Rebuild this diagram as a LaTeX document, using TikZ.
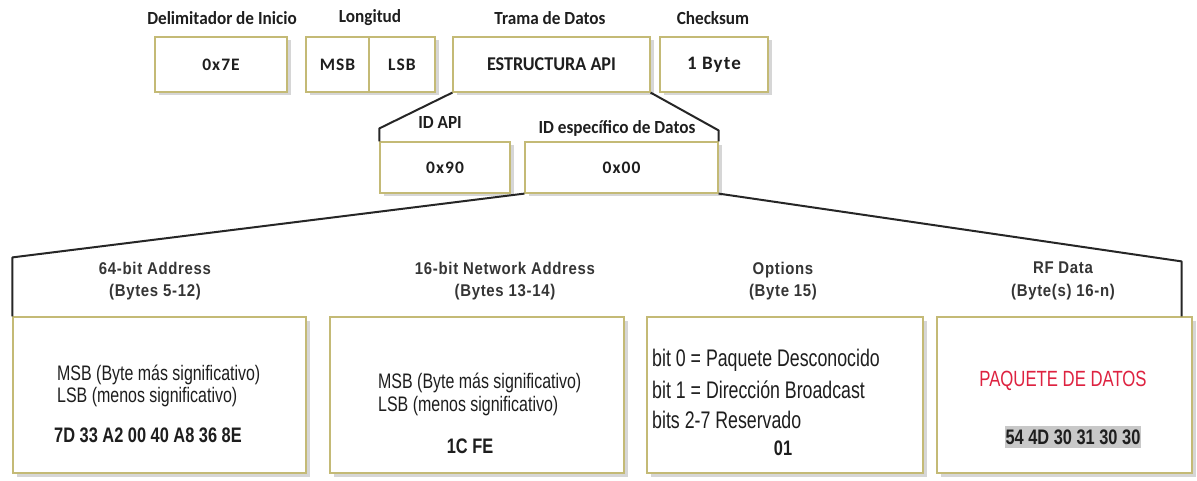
\documentclass[tikz,border=0pt]{standalone}
\usepackage{fontspec}
\setmainfont{Liberation Sans}
\newfontfamily\calfont[FakeStretch=0.93]{Carlito}
\newfontfamily\valfont[LetterSpace=6]{Carlito}
\newfontfamily\narrowfont[FakeStretch=0.76]{Liberation Sans}
\newfontfamily\optfont[FakeStretch=0.74]{Liberation Sans}
\newfontfamily\numfont[FakeStretch=0.78]{Liberation Sans}
\newfontfamily\headfont[FakeStretch=0.88,LetterSpace=4]{Liberation Sans}
\usetikzlibrary{shadows,calc}

\definecolor{frame}{RGB}{196,186,118}
\definecolor{shade}{RGB}{180,180,180}
\definecolor{redtxt}{RGB}{222,34,64}
\definecolor{hilite}{RGB}{200,200,200}
\definecolor{ink}{RGB}{30,30,30}

\tikzset{
  box/.style={draw=frame, line width=1.2pt, fill=white, inner sep=0pt,
    drop shadow={shadow xshift=3.5pt, shadow yshift=-3.5pt, fill=shade, opacity=0.55}},
  toplabel/.style={font=\calfont\bfseries\fontsize{18.5}{20}\selectfont, text=ink},
  topval/.style={font=\valfont\bfseries\fontsize{17.5}{19}\selectfont, text=ink},
  head/.style={font=\headfont\bfseries\fontsize{17}{22.5}\selectfont, text=ink!90, align=center},
  body/.style={font=\narrowfont\fontsize{21}{22}\selectfont, text=ink, anchor=west, inner sep=0pt},
  opt/.style={font=\optfont\fontsize{24}{26}\selectfont, text=ink, anchor=west, inner sep=0pt},
  num/.style={font=\numfont\bfseries\fontsize{21}{22}\selectfont, text=ink, inner sep=0pt},
  conn/.style={draw=black!85, line width=2pt, line join=round},
}

\begin{document}
\begin{tikzpicture}[x=1pt,y=-1pt]
\useasboundingbox (0,0) rectangle (1197,481);

% --- frame: start delimiter, length, data frame, checksum
\node[toplabel] (ldelim) at (222,18) {Delimitador de Inicio};
\node[toplabel] (llen)   at (370,18) {Longitud};
\node[toplabel] (ltrama) at (550,18) {Trama de Datos};
\node[toplabel] (lcheck) at (713,18) {Checksum};

\node[box, minimum width=132pt, minimum height=55pt, topval] (delim) at (221,64.5) {0x7E};
\node[box, minimum width=63pt, minimum height=55pt, topval] (msb) at (337.5,64.5) {MSB};
\node[box, minimum width=66pt, minimum height=55pt, topval] (lsb) at (402,64.5) {LSB};
\node[box, minimum width=197pt, minimum height=55pt, font=\calfont\bfseries\fontsize{19.5}{20}\selectfont, text=ink] (trama) at (551.5,64.5) {ESTRUCTURA API};
\node[box, minimum width=108pt, minimum height=55pt, font=\valfont\bfseries\fontsize{19}{20}\selectfont, text=ink] (check) at (714,64.5) {1 Byte};

% --- API structure
\node[toplabel] (lidapi) at (440,123) {ID API};
\node[toplabel] (lidesp) at (617,128) {ID específico de Datos};
\node[box, minimum width=130pt, minimum height=51pt, topval] (idapi) at (445,167.5) {0x90};
\node[box, minimum width=193pt, minimum height=51pt, topval] (idesp) at (621.5,167.5) {0x00};

\draw[conn] (trama.south west) -- ($(idapi.north west)+(0,-13)$) -- (idapi.north west);
\draw[conn] (trama.south east) -- ($(idesp.north east)+(0,-11)$) -- (idesp.north east);

% --- RF packet fields
\node[box, minimum width=293pt, minimum height=156pt] (b1) at (159.5,395) {};
\node[box, minimum width=294pt, minimum height=156pt] (b2) at (477,395) {};
\node[box, minimum width=276pt, minimum height=156pt] (b3) at (785,395) {};
\node[box, minimum width=255pt, minimum height=156pt] (b4) at (1064.5,395) {};

\coordinate (rdrop) at ($(b4.north east)+(-11,0)$);
\draw[conn] (idesp.south west) -- ($(b1.north west)+(0,-59)$) -- (b1.north west);
\draw[conn] (idesp.south east) -- ($(rdrop)+(0,-55)$) -- (rdrop);

\node[head] (h1) at (155,281) {64-bit Address\\(Bytes 5-12)};
\node[head] (h2) at (505,281) {16-bit Network Address\\(Bytes 13-14)};
\node[head] (h3) at (783,281) {Options\\(Byte 15)};
\node[head] (h4) at (1063,281) {RF Data\\(Byte(s) 16-n)};

% 64-bit address
\node[body] (a1) at (57,375) {MSB (Byte más significativo)};
\node[body] (a2) at (57,397) {LSB (menos significativo)};
\node[num, anchor=west] (a3) at (54,435) {7D 33 A2 00 40 A8 36 8E};

% 16-bit network address
\node[body] (n1) at (378,383) {MSB (Byte más significativo)};
\node[body] (n2) at (378,406) {LSB (menos significativo)};
\node[num] (n3) at (470,446) {1C FE};

% options
\node[opt] (o1) at (652,360) {bit 0 = Paquete Desconocido};
\node[opt] (o2) at (652,390) {bit 1 = Dirección Broadcast};
\node[opt] (o3) at (652,420) {bits 2-7 Reservado};
\node[num] (o4) at (783,448) {01};

% RF data
\node[font=\narrowfont\fontsize{22}{24}\selectfont, text=redtxt] (d1) at (1063,381) {PAQUETE DE DATOS};
\node[num, fill=hilite, inner xsep=1pt, inner ysep=4pt] (d2) at (1073,437) {54 4D 30 31 30 30};
\end{tikzpicture}
\end{document}
